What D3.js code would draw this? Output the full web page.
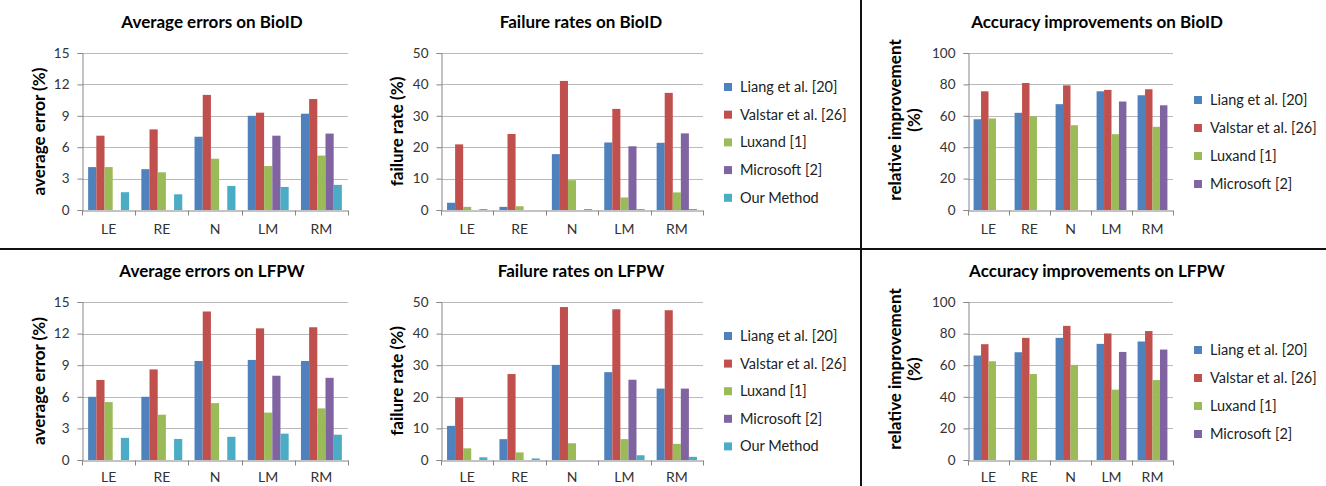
<!DOCTYPE html>
<html><head><meta charset="utf-8">
<script src="https://cdn.jsdelivr.net/npm/d3@7/dist/d3.min.js"></script>
<style>
html,body{margin:0;padding:0;background:#fff;}
svg text{font-family:Lato,"Open Sans",sans-serif;}
</style></head>
<body>
<svg id="c" width="1326" height="486"></svg>
<script>
// ---------- data ----------
const categories = ["LE", "RE", "N", "LM", "RM"];
const seriesNames = ["Liang et al. [20]", "Valstar et al. [26]", "Luxand [1]", "Microsoft [2]", "Our Method"];
const seriesColors = ["#4F81BD", "#C0504D", "#9BBB59", "#8064A2", "#4BACC6"];

const ticksError = [0, 3, 6, 9, 12, 15];
const ticksFailure = [0, 10, 20, 30, 40, 50];
const ticksImprove = [0, 20, 40, 60, 80, 100];

// rows = series (Liang, Valstar, Luxand, Microsoft, Our Method), cols = categories
const bioidAvgError = [
  [4.1, 3.9, 7.0, 9.0, 9.2],
  [7.1, 7.7, 11.0, 9.3, 10.6],
  [4.1, 3.6, 4.9, 4.2, 5.2],
  [null, null, null, 7.1, 7.3],
  [1.7, 1.5, 2.3, 2.2, 2.4]
];
const bioidFailure = [
  [2.3, 1.0, 17.8, 21.5, 21.4],
  [20.9, 24.2, 41.1, 32.2, 37.3],
  [1.0, 1.2, 9.5, 4.0, 5.6],
  [null, null, null, 20.3, 24.4],
  [0.3, 0, 0.3, 0.3, 0.3]
];
const bioidImprove = [
  [57.8, 61.9, 67.4, 75.6, 73.1],
  [75.6, 80.9, 79.4, 76.5, 76.9],
  [58.3, 59.7, 54.0, 48.3, 53.0],
  [null, null, null, 69.1, 66.7]
];
const lfpwAvgError = [
  [6.0, 6.0, 9.4, 9.5, 9.4],
  [7.6, 8.6, 14.1, 12.5, 12.6],
  [5.5, 4.3, 5.4, 4.5, 4.9],
  [null, null, null, 8.0, 7.8],
  [2.1, 2.0, 2.2, 2.5, 2.4]
];
const lfpwFailure = [
  [10.8, 6.6, 30.1, 27.8, 22.6],
  [19.8, 27.2, 48.4, 47.7, 47.4],
  [3.7, 2.4, 5.3, 6.6, 5.1],
  [null, null, null, 25.4, 22.6],
  [0.85, 0.5, 0, 1.5, 1.0]
];
const lfpwImprove = [
  [66.1, 68.2, 77.3, 73.5, 75.0],
  [73.3, 77.3, 84.9, 80.1, 81.6],
  [62.5, 54.4, 60.2, 44.5, 50.6],
  [null, null, null, 68.4, 69.9]
];

// ---------- layout ----------
const svg = d3.select("#c");
const rows = [{top: 53, bottom: 210, dy: 0, xpad: 14}, {top: 302, bottom: 460, dy: 249, xpad: 12}];
const cols = [
  {x0: 82, x1: 348, titleX: 212, ylabX: 39},
  {x0: 441, x1: 703, titleX: 581, ylabX: 397},
  {x0: 968, x1: 1173, titleX: 1097, ylabX: 895}
];

const panels = [
  {r: 0, c: 0, title: "Average errors on BioID", ylab: ["average error (%)"], data: bioidAvgError, ticks: ticksError},
  {r: 0, c: 1, title: "Failure rates on BioID", ylab: ["failure rate (%)"], data: bioidFailure, ticks: ticksFailure, legend: {x: 728, y: 87, step: 27.7}},
  {r: 0, c: 2, title: "Accuracy improvements on BioID", ylab: ["relative improvement", "(%)"], data: bioidImprove, ticks: ticksImprove, legend: {x: 1198, y: 100, step: 28}},
  {r: 1, c: 0, title: "Average errors on LFPW", ylab: ["average error (%)"], data: lfpwAvgError, ticks: ticksError},
  {r: 1, c: 1, title: "Failure rates on LFPW", ylab: ["failure rate (%)"], data: lfpwFailure, ticks: ticksFailure, legend: {x: 728, y: 336, step: 27.6}},
  {r: 1, c: 2, title: "Accuracy improvements on LFPW", ylab: ["relative improvement", "(%)"], data: lfpwImprove, ticks: ticksImprove, legend: {x: 1198, y: 350, step: 28}}
];

panels.forEach(p => {
  const R = rows[p.r], C = cols[p.c];
  const g = svg.append("g");
  const nS = p.data.length;
  const sNames = seriesNames.slice(0, nS);

  const x = d3.scaleBand().domain(categories).range([C.x0, C.x1]).padding(0);
  const xs = d3.scaleBand().domain(sNames).range([0, x.bandwidth()]).paddingInner(0).paddingOuter(0.75);
  const y = d3.scaleLinear().domain([p.ticks[0], p.ticks[p.ticks.length - 1]]).range([R.bottom, R.top]);

  // gridlines
  g.append("g").selectAll("line").data(p.ticks.slice(1)).join("line")
    .attr("x1", C.x0).attr("x2", C.x1)
    .attr("y1", d => Math.round(y(d)) + 0.5).attr("y2", d => Math.round(y(d)) + 0.5)
    .attr("stroke", "#BABABA").attr("stroke-width", 1);

  // bars
  p.data.forEach((vals, si) => {
    g.append("g").selectAll("rect")
      .data(vals.map((v, i) => ({v, cat: categories[i]})).filter(d => d.v !== null && d.v > 0))
      .join("rect")
      .attr("x", d => x(d.cat) + xs(sNames[si]))
      .attr("width", xs.bandwidth())
      .attr("y", d => y(d.v))
      .attr("height", d => y(0) - y(d.v))
      .attr("fill", seriesColors[si]);
  });

  // y axis
  const yAxis = d3.axisLeft(y).tickValues(p.ticks).tickSize(5).tickPadding(8).tickFormat(d3.format("d"));
  const ya = g.append("g").attr("transform", `translate(${C.x0 + 0.5},0)`).call(yAxis);
  ya.select(".domain").attr("stroke", "#868686");
  ya.selectAll(".tick line").attr("stroke", "#868686");
  ya.selectAll(".tick text").attr("fill", "#333").style("font-size", "13.5px").style("font-family", "Lato, sans-serif");

  // x axis
  const xa = g.append("g").attr("transform", `translate(0,${Math.round(y(0)) + 0.5})`)
    .call(d3.axisBottom(x).tickSize(0).tickPadding(R.xpad));
  xa.select(".domain").attr("stroke", "#868686");
  xa.selectAll(".tick text").attr("fill", "#333").style("font-size", "14px").style("font-family", "Lato, sans-serif");
  // category boundary tick marks
  xa.append("g").selectAll("line").data(d3.range(categories.length + 1)).join("line")
    .attr("x1", i => Math.round(C.x0 + i * x.step()) + 0.5)
    .attr("x2", i => Math.round(C.x0 + i * x.step()) + 0.5)
    .attr("y1", 0).attr("y2", 5).attr("stroke", "#868686");

  // title
  g.append("text").attr("x", C.titleX).attr("y", 28 + R.dy)
    .attr("text-anchor", "middle").attr("font-weight", "bold").attr("font-size", "17px").attr("fill", "#000")
    .text(p.title);

  // y label
  const cy = p.ylab.length > 1 ? 120 + R.dy : (R.top + R.bottom) / 2;
  p.ylab.forEach((t, i) => {
    g.append("text")
      .attr("transform", `translate(${C.ylabX + i * 19},${cy}) rotate(-90)`)
      .attr("text-anchor", "middle").attr("dy", "0.35em")
      .attr("font-weight", "bold").attr("font-size", "17px").attr("fill", "#000")
      .text(t);
  });

  // legend
  if (p.legend) {
    const L = p.legend;
    const lg = g.append("g");
    sNames.forEach((s, i) => {
      const yy = L.y + i * L.step;
      lg.append("rect").attr("x", L.x - 4).attr("y", yy - 4).attr("width", 8).attr("height", 8).attr("fill", seriesColors[i]);
      lg.append("text").attr("x", L.x + 12).attr("y", yy).attr("dy", "0.35em")
        .attr("font-size", "14.5px").attr("fill", "#222").text(s);
    });
  }
});

// divider lines
svg.append("line").attr("x1", 0).attr("x2", 1326).attr("y1", 249).attr("y2", 249).attr("stroke", "#111").attr("stroke-width", 2);
svg.append("line").attr("x1", 861).attr("x2", 861).attr("y1", 0).attr("y2", 486).attr("stroke", "#111").attr("stroke-width", 2);
</script>
</body></html>
